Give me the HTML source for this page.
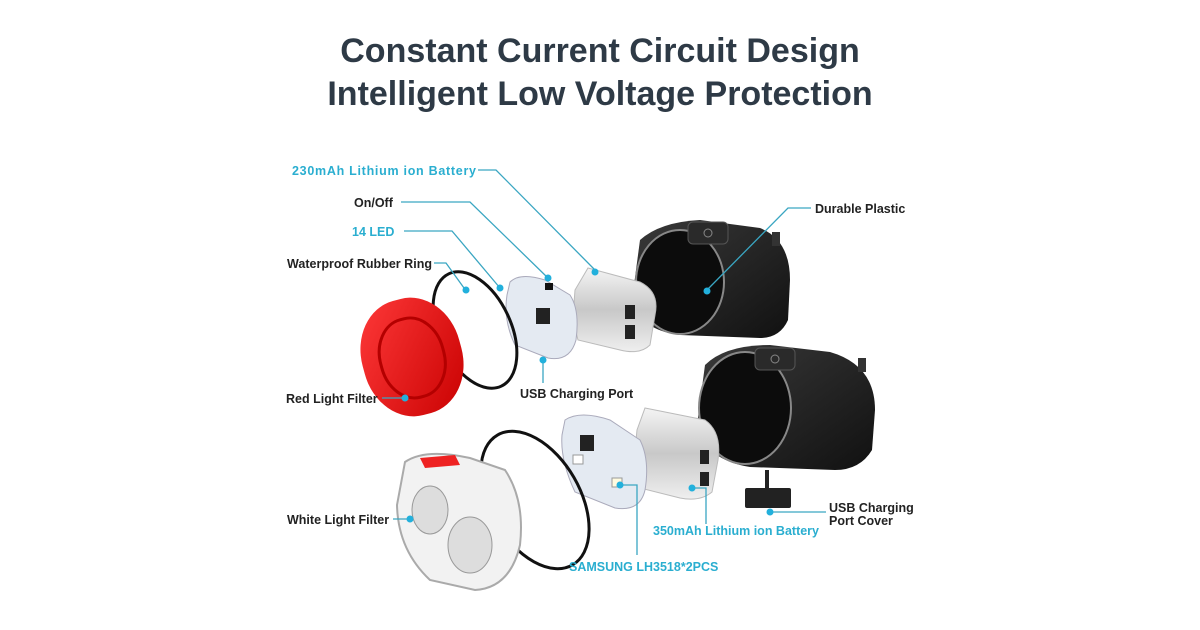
<!DOCTYPE html>
<html><head><style>
html,body{margin:0;padding:0;background:#fff;width:1200px;height:630px;overflow:hidden}
svg{display:block}
.t{font-family:"Liberation Sans",sans-serif;font-weight:bold;fill:#2e3a46;font-size:34px}
.l{font-family:"Liberation Sans",sans-serif;font-weight:bold;font-size:12.5px;fill:#222}
.c{fill:#2aaed0}
.ln{stroke:#3aa6c2;stroke-width:1.3;fill:none}
.dot{fill:#22b0dc}
</style></head><body>
<svg width="1200" height="630" viewBox="0 0 1200 630">
<defs>
<linearGradient id="red" x1="0" y1="0" x2="1" y2="1"><stop offset="0" stop-color="#ff3a3a"/><stop offset="1" stop-color="#c80000"/></linearGradient>
<linearGradient id="bat" x1="0" y1="0" x2="0" y2="1"><stop offset="0" stop-color="#f4f4f4"/><stop offset="0.5" stop-color="#c8c8c8"/><stop offset="1" stop-color="#efefef"/></linearGradient>
<linearGradient id="blk" x1="0" y1="0" x2="1" y2="1"><stop offset="0" stop-color="#3a3a3a"/><stop offset="1" stop-color="#111"/></linearGradient>
</defs>
<text class="t" x="600" y="62" text-anchor="middle">Constant Current Circuit Design</text>
<text class="t" x="600" y="105" text-anchor="middle">Intelligent Low Voltage Protection</text>

<g>
<path d="M640 240 Q660 222 700 220 L760 228 Q790 240 790 280 L788 320 Q780 338 760 338 L680 335 Q640 330 632 300 Z" fill="url(#blk)"/>
<ellipse cx="680" cy="282" rx="44" ry="52" fill="#0c0c0c" stroke="#888" stroke-width="2"/>
<rect x="688" y="222" width="40" height="22" rx="5" fill="#2a2a2a" stroke="#555"/>
<circle cx="708" cy="233" r="4" fill="none" stroke="#888"/>
<rect x="772" y="232" width="8" height="14" fill="#333"/>
</g>
<g>
<path d="M705 365 Q725 345 770 345 L830 352 Q875 365 875 410 L872 450 Q860 470 835 470 L750 467 Q705 460 697 425 Z" fill="url(#blk)"/>
<ellipse cx="745" cy="408" rx="46" ry="56" fill="#0c0c0c" stroke="#888" stroke-width="2"/>
<rect x="755" y="348" width="40" height="22" rx="5" fill="#2a2a2a" stroke="#555"/>
<circle cx="775" cy="359" r="4" fill="none" stroke="#888"/>
<rect x="858" y="358" width="8" height="14" fill="#333"/>
</g>
<rect x="745" y="488" width="46" height="20" rx="2" fill="#222"/>
<rect x="765" y="470" width="4" height="20" fill="#222"/>

<path d="M588 268 L640 282 Q660 292 655 315 L650 345 Q640 355 620 350 L578 340 Q572 320 575 290 Z" fill="url(#bat)" stroke="#bbb"/>
<rect x="625" y="305" width="10" height="14" fill="#222"/><rect x="625" y="325" width="10" height="14" fill="#222"/>
<path d="M645 408 L705 420 Q722 432 718 460 L712 492 Q700 502 680 498 L640 488 Q633 460 637 430 Z" fill="url(#bat)" stroke="#bbb"/>
<rect x="700" y="450" width="9" height="14" fill="#222"/><rect x="700" y="472" width="9" height="14" fill="#222"/>

<path d="M510 282 Q520 272 545 280 L570 295 Q580 310 576 340 Q570 362 548 358 L515 345 Q503 320 507 295 Z" fill="#e4eaf2" stroke="#aab"/>
<rect x="536" y="308" width="14" height="16" fill="#222"/>
<rect x="545" y="283" width="8" height="7" fill="#111"/>
<path d="M565 420 Q580 410 610 420 L640 440 Q650 460 645 490 Q640 512 615 508 L575 492 Q560 460 562 435 Z" fill="#e4eaf2" stroke="#aab"/>
<rect x="580" y="435" width="14" height="16" fill="#222"/>
<rect x="573" y="455" width="10" height="9" fill="#fff" stroke="#999"/>
<rect x="612" y="478" width="10" height="9" fill="#fffbe0" stroke="#999"/>

<ellipse cx="475" cy="330" rx="36" ry="62" transform="rotate(-25 475 330)" fill="none" stroke="#111" stroke-width="3"/>
<ellipse cx="535" cy="500" rx="45" ry="75" transform="rotate(-30 535 500)" fill="none" stroke="#111" stroke-width="3"/>

<rect x="362" y="298" width="100" height="118" rx="46" ry="55" fill="url(#red)" transform="rotate(-15 412 357)"/>
<rect x="380" y="318" width="64" height="80" rx="30" ry="38" fill="none" stroke="#b40000" stroke-width="3" transform="rotate(-15 412 357)"/>
<path d="M405 462 Q425 448 470 458 L505 470 Q525 500 520 545 Q510 588 475 590 L430 580 Q398 550 397 505 Z" fill="#f2f2f2" stroke="#aaa" stroke-width="2"/>
<ellipse cx="430" cy="510" rx="18" ry="24" fill="#ddd" stroke="#999"/>
<ellipse cx="470" cy="545" rx="22" ry="28" fill="#ddd" stroke="#999"/>
<path d="M420 458 L455 455 L460 465 L425 468 Z" fill="#e22"/>

<g class="ln">
<polyline points="478,170 496,170 595,270"/>
<polyline points="401,202 470,202 548,278"/>
<polyline points="404,231 452,231 500,288"/>
<polyline points="434,263 446,263 464,288"/>
<polyline points="811,208 788,208 707,290"/>
<polyline points="382,398 405,398"/>
<polyline points="543,383 543,357"/>
<polyline points="393,519 410,519"/>
<polyline points="637,555 637,485 622,485"/>
<polyline points="706,524 706,488 692,488"/>
<polyline points="826,512 770,512"/>
</g>
<g class="dot">
<circle cx="595" cy="272" r="3.5"/><circle cx="548" cy="278" r="3.5"/><circle cx="500" cy="288" r="3.5"/>
<circle cx="466" cy="290" r="3.5"/><circle cx="707" cy="291" r="3.5"/><circle cx="405" cy="398" r="3.5"/>
<circle cx="543" cy="360" r="3.5"/><circle cx="410" cy="519" r="3.5"/><circle cx="620" cy="485" r="3.5"/>
<circle cx="692" cy="488" r="3.5"/><circle cx="770" cy="512" r="3.5"/>
</g>

<text class="l c" x="292" y="175" textLength="184">230mAh Lithium ion Battery</text>
<text class="l" x="354" y="207">On/Off</text>
<text class="l c" x="352" y="236">14 LED</text>
<text class="l" x="287" y="268" textLength="145">Waterproof Rubber Ring</text>
<text class="l" x="815" y="213">Durable Plastic</text>
<text class="l" x="286" y="403">Red Light Filter</text>
<text class="l" x="520" y="398">USB Charging Port</text>
<text class="l" x="287" y="524">White Light Filter</text>
<text class="l c" x="653" y="535">350mAh Lithium ion Battery</text>
<text class="l" x="829" y="512">USB Charging</text>
<text class="l" x="829" y="525">Port Cover</text>
<text class="l c" x="569" y="571">SAMSUNG LH3518*2PCS</text>
</svg>
</body></html>
